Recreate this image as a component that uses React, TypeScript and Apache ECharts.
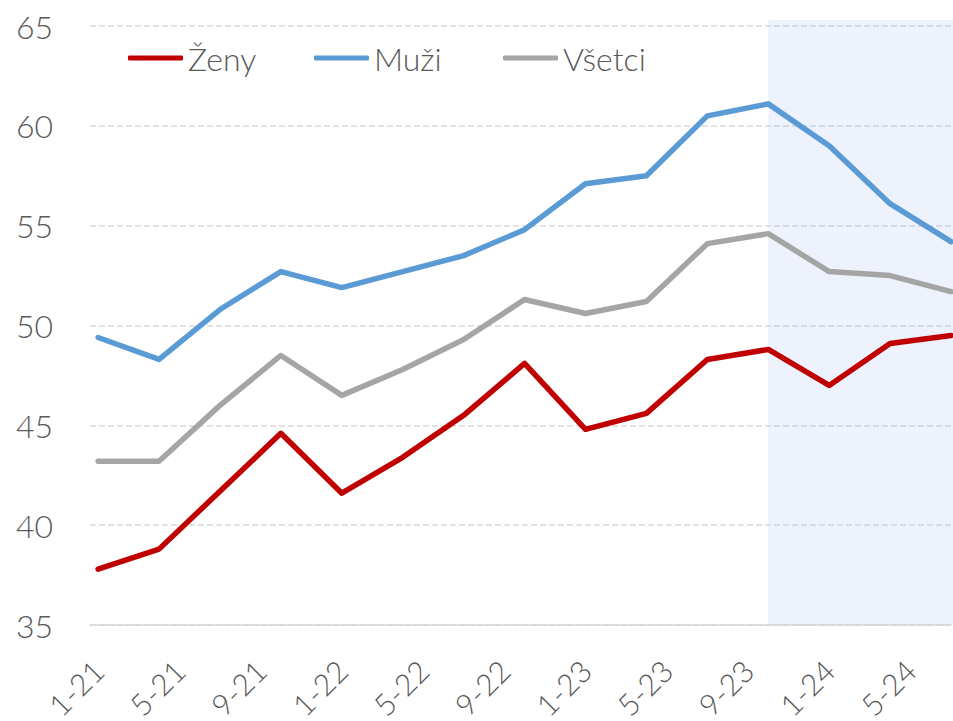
import React, { useEffect, useRef } from "react";
import * as echarts from "echarts";

const periods = ["1-21","4-21","7-21","10-21","1-22","4-22","7-22","10-22","1-23","4-23","7-23","10-23","1-24","4-24","7-24"];
const zeny = [37.8, 38.8, 41.7, 44.6, 41.6, 43.4, 45.5, 48.1, 44.8, 45.6, 48.3, 48.8, 47.0, 49.1, 49.5];
const muzi = [49.4, 48.3, 50.8, 52.7, 51.9, 52.7, 53.5, 54.8, 57.1, 57.5, 60.5, 61.1, 59.0, 56.1, 54.2];
const vsetci = [43.2, 43.2, 46.0, 48.5, 46.5, 47.8, 49.3, 51.3, 50.6, 51.2, 54.1, 54.6, 52.7, 52.5, 51.7];
const tickLabels = ["1-21","5-21","9-21","1-22","5-22","9-22","1-23","5-23","9-23","1-24","5-24"];
const shadeFrom = "10-23";
const yTicks = [35, 40, 45, 50, 55, 60, 65];

const toMonth = (p: string) => {
  const [m, y] = p.split("-").map(Number);
  return (y - 21) * 12 + (m - 1);
};
const fromMonth = (v: number) => {
  const mi = Math.round(v);
  const y = 21 + Math.floor(mi / 12);
  const m = (mi % 12) + 1;
  return `${m}-${y}`;
};

const FONT = "Lato";
const TXT = "#595959";

export default function App() {
  const ref = useRef<HTMLDivElement>(null);
  useEffect(() => {
    if (!ref.current) return;
    const chart = echarts.init(ref.current, null, { renderer: "svg" });
    const xs = periods.map(toMonth);
    const mk = (arr: number[]) => arr.map((v, i) => [xs[i], v]);
    const names = ["Ženy", "Muži", "Všetci"];
    const colors = ["#C00000", "#5B9BD5", "#A5A5A5"];
    const legendLefts = [128, 314, 503];
    const xMax = toMonth(periods[periods.length - 1]);
    const yMin = yTicks[0];
    const yMax = yTicks[yTicks.length - 1];
    chart.setOption({
      animation: false,
      grid: [
        { left: 90, right: 2, top: 26, bottom: 96, outerBoundsMode: "none", containLabel: false },
        { left: 90, right: 0, top: 20, bottom: 96, outerBoundsMode: "none", containLabel: false },
      ],
      legend: names.map((n, i) => ({
        data: [{ name: n, icon: "roundRect" }],
        left: legendLefts[i],
        top: 40,
        padding: 0,
        itemWidth: 55,
        itemHeight: 5,
        itemGap: 0,
        textStyle: { fontFamily: FONT, fontSize: 32, color: TXT, fontWeight: 300, lineHeight: 36 },
        itemStyle: { borderWidth: 0 },
      })),
      xAxis: [
        {
          type: "value",
          gridIndex: 0,
          min: -0.4,
          max: xMax,
          axisLine: { show: true, lineStyle: { color: "#D9D9D9", width: 1.5 } },
          axisTick: { show: false },
          splitLine: { show: false },
          axisLabel: {
            customValues: tickLabels.map(toMonth),
            formatter: (v: number) => fromMonth(v),
            rotate: 45,
            margin: 40,
            fontFamily: FONT,
            fontSize: 30,
            fontWeight: 300,
            color: TXT,
          },
        },
        {
          type: "value",
          gridIndex: 1,
          min: -0.4,
          max: xMax + 0.1,
          show: false,
        },
      ],
      yAxis: [
        {
          type: "value",
          gridIndex: 0,
          min: yMin,
          max: yMax,
          interval: 5,
          axisLine: { show: false },
          axisTick: { show: false },
          splitLine: { show: true, lineStyle: { color: "#D9D9D9", width: 1.5, type: [6, 3] } },
          axisLabel: { margin: 37, fontFamily: FONT, fontSize: 32, fontWeight: 300, color: TXT },
        },
        {
          type: "value",
          gridIndex: 1,
          min: yMin,
          max: yMax + 0.3,
          show: false,
        },
      ],
      series: [
        ...[zeny, muzi, vsetci].map((arr, i) => ({
          name: names[i],
          type: "line",
          xAxisIndex: 0,
          yAxisIndex: 0,
          data: mk(arr),
          symbol: "none",
          color: colors[i],
          lineStyle: { width: 5.5, color: colors[i], cap: "round", join: "round" },
          z: 2,
        })),
        {
          name: "shade",
          type: "line",
          xAxisIndex: 1,
          yAxisIndex: 1,
          data: [[toMonth(shadeFrom), yMin]],
          symbol: "none",
          lineStyle: { opacity: 0 },
          z: 5,
          markArea: {
            silent: true,
            itemStyle: { color: "rgba(168,192,240,0.21)" },
            data: [[{ xAxis: toMonth(shadeFrom), yAxis: yMin }, { xAxis: xMax + 0.1, yAxis: yMax + 0.3 }]],
          },
        },
      ],
    });
    return () => chart.dispose();
  }, []);
  return <div ref={ref} style={{ position: "absolute", left: 0, top: 0, width: 953, height: 721 }} />;
}
